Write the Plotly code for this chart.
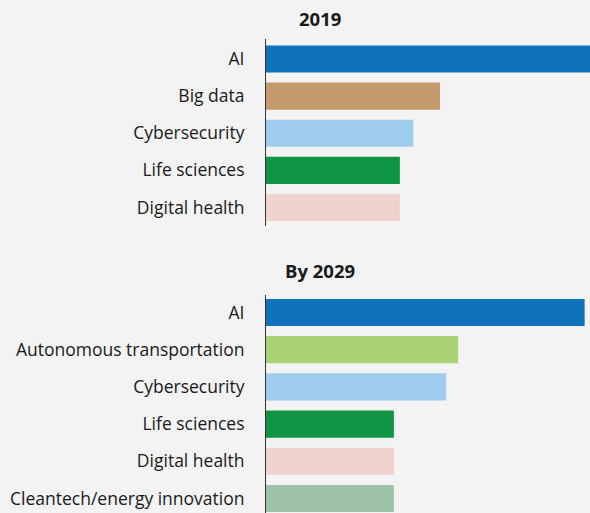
import plotly.graph_objects as go

# data
cats_2019 = ['AI', 'Big data', 'Cybersecurity', 'Life sciences', 'Digital health']
vals_2019 = [50, 26, 22, 20, 20]
cols_2019 = ['#1072bb', '#c49a6c', '#9ecdee', '#0e9444', '#f0d2cf']

cats_2029 = ['AI', 'Autonomous transportation', 'Cybersecurity', 'Life sciences',
             'Digital health', 'Cleantech/energy innovation']
vals_2029 = [47.6, 28.7, 26.9, 19.1, 19.1, 19.1]
cols_2029 = ['#1072bb', '#a8d275', '#9ecdee', '#0e9444', '#f0d2cf', '#9ec3a6']

bg = '#f2f3f2'
fnt = 'Open Sans, sans-serif'

fig = go.Figure()

fig.add_trace(go.Bar(
    x = vals_2019, y = cats_2019, orientation = 'h',
    marker = dict(color = cols_2019, line = dict(width = 0)),
    xaxis = 'x', yaxis = 'y', hoverinfo = 'x+y'
))
fig.add_trace(go.Bar(
    x = vals_2029, y = cats_2029, orientation = 'h',
    marker = dict(color = cols_2029, line = dict(width = 0)),
    xaxis = 'x2', yaxis = 'y2', hoverinfo = 'x+y'
))

xdom = [266 / 590, 1.0]
H = 513

fig.update_layout(
    width = 590, height = 513,
    margin = dict(l = 0, r = 0, t = 0, b = 0),
    paper_bgcolor = bg, plot_bgcolor = bg,
    showlegend = False, bargap = 0.27,
    font = dict(family = fnt, size = 17.5, color = '#1a1a1a'),
    xaxis = dict(domain = xdom, range = [0, 48.4], visible = False, anchor = 'y'),
    xaxis2 = dict(domain = xdom, range = [0, 48.4], visible = False, anchor = 'y2'),
    yaxis = dict(domain = [1 - 226 / H, 1 - 39 / H], range = [4.5, -0.54], anchor = 'x',
                 showline = True, linecolor = '#333333', linewidth = 1,
                 ticks = '', showgrid = False, ticklabelstandoff = 17),
    yaxis2 = dict(domain = [0, 1 - 295 / H], range = [5.39, -0.47], anchor = 'x2',
                  showline = True, linecolor = '#333333', linewidth = 1,
                  ticks = '', showgrid = False, ticklabelstandoff = 17),
    annotations = [
        dict(text = '<b>2019</b>', x = 320 / 590, y = 1 - 19 / H, xref = 'paper', yref = 'paper',
             xanchor = 'center', yanchor = 'middle', showarrow = False, font = dict(size = 18.5)),
        dict(text = '<b>By 2029</b>', x = 320 / 590, y = 1 - 270 / H, xref = 'paper', yref = 'paper',
             xanchor = 'center', yanchor = 'middle', showarrow = False, font = dict(size = 18.5)),
    ]
)

# drop the page margin so the figure sits flush in the window
fig.write_html("out.html", config = {'displayModeBar': False},
               post_script = "document.body.style.margin='0';document.body.style.overflow='hidden';")
